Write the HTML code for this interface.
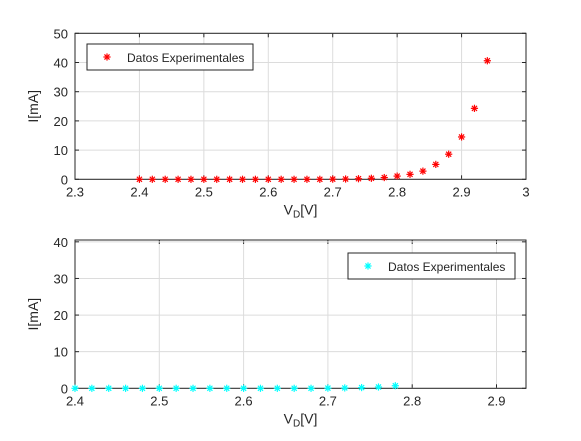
<!DOCTYPE html>
<html><head><meta charset="utf-8"><style>
body{margin:0;background:#fff;}
svg text{font-family:"Liberation Sans",Arial,sans-serif;fill:#262626;}
</style></head><body>
<svg id="fig" width="581" height="436" xmlns="http://www.w3.org/2000/svg"></svg>
<script>
const vTop=[2.40,2.42,2.44,2.46,2.48,2.50,2.52,2.54,2.56,2.58,2.60,2.62,2.64,2.66,2.68,2.70,2.72,2.74,2.76,2.78,2.80,2.82,2.84,2.86,2.88,2.90,2.92,2.94];
const iTop=[0,0,0,0,0,0,0,0,0,0,0,0,0,0,0,0.05,0.1,0.2,0.35,0.6,1.1,1.7,2.8,5.1,8.6,14.5,24.3,40.6];
const vBot=[2.40,2.42,2.44,2.46,2.48,2.50,2.52,2.54,2.56,2.58,2.60,2.62,2.64,2.66,2.68,2.70,2.72,2.74,2.76,2.78];
const iBot=[0,0,0,0,0,0,0,0,0,0,0,0,0,0,0,0.05,0.1,0.2,0.35,0.7];
const xTicksTop=[2.3,2.4,2.5,2.6,2.7,2.8,2.9,3];
const yTicksTop=[0,10,20,30,40,50];
const xTicksBot=[2.4,2.5,2.6,2.7,2.8,2.9];
const yTicksBot=[0,10,20,30,40];
const NS="http://www.w3.org/2000/svg";
const svg=document.getElementById('fig');
function mk(tag,attrs,parent){const e=document.createElementNS(NS,tag);for(const k in attrs)e.setAttribute(k,attrs[k]);(parent||svg).appendChild(e);return e;}
function star(g,x,y,c){
  const r=3.6;
  for(let a=0;a<4;a++){const t=a*Math.PI/4;const l=mk('line',{x1:x-r*Math.cos(t),y1:y-r*Math.sin(t),x2:x+r*Math.cos(t),y2:y+r*Math.sin(t),stroke:c,'stroke-width':1.2},g);
  
  }
}
function panel(name,L,T,R,B,xmin,xmax,ymin,ymax,xt,yt,xs,ys,color,leg){
  const g=mk('g',{});
  
  
  const sx=v=>L+(v-xmin)/(xmax-xmin)*(R-L);
  const sy=v=>B-(v-ymin)/(ymax-ymin)*(B-T);
  mk('rect',{x:L,y:T,width:R-L,height:B-T,fill:'#fff'},g);
  xt.forEach(t=>{const x=sx(t);
    mk('line',{x1:x,y1:T,x2:x,y2:B,stroke:'#dcdcdc','stroke-width':1},g);
    mk('line',{x1:x,y1:B,x2:x,y2:B-4,stroke:'#262626'},g);mk('line',{x1:x,y1:T,x2:x,y2:T+4,stroke:'#262626'},g);
    const tx=mk('text',{x:x,y:B+17,'font-size':13,'text-anchor':'middle'},g);tx.textContent=String(t);
    
    });
  yt.forEach(t=>{const y=sy(t);
    mk('line',{x1:L,y1:y,x2:R,y2:y,stroke:'#dcdcdc','stroke-width':1},g);
    mk('line',{x1:L,y1:y,x2:L+4,y2:y,stroke:'#262626'},g);mk('line',{x1:R,y1:y,x2:R-4,y2:y,stroke:'#262626'},g);
    const tx=mk('text',{x:L-7,y:y+5,'font-size':13,'text-anchor':'end'},g);tx.textContent=String(t);
    
    });
  mk('rect',{x:L,y:T,width:R-L,height:B-T,fill:'none',stroke:'#262626','stroke-width':1},g);
  xs.forEach((v,i)=>{if(v<=xmax+1e-9)star(g,sx(v),sy(ys[i]),color);});
  const xl=mk('text',{x:(L+R)/2,y:B+35,'font-size':14,'text-anchor':'middle'},g);
  xl.innerHTML='V<tspan font-size="10" dy="3">D</tspan><tspan dy="-3">[V]</tspan>';
  
  
  const yl=mk('text',{x:0,y:0,'font-size':14,'text-anchor':'middle',transform:`translate(${L-37},${(T+B)/2}) rotate(-90)`},g);
  yl.textContent='I[mA]';
  
  
  const lg=mk('g',{},g);
  
  
  mk('rect',{x:leg[0],y:leg[1],width:leg[2],height:26,fill:'#fff',stroke:'#262626'},lg);
  star(lg,leg[0]+20,leg[1]+13,color);
  const lt=mk('text',{x:leg[0]+40,y:leg[1]+18,'font-size':12},lg);lt.textContent='Datos Experimentales';
  
  
}
panel('top-chart',75,33.3,526,179.3,2.3,3,0,50,xTicksTop,yTicksTop,vTop,iTop,'#ff0000',[87,44,166]);
panel('bottom-chart',75,240,526,388.3,2.4,2.935,0,40.5,xTicksBot,yTicksBot,vBot,iBot,'#00ffff',[348,253,167]);
</script>
</body></html>
